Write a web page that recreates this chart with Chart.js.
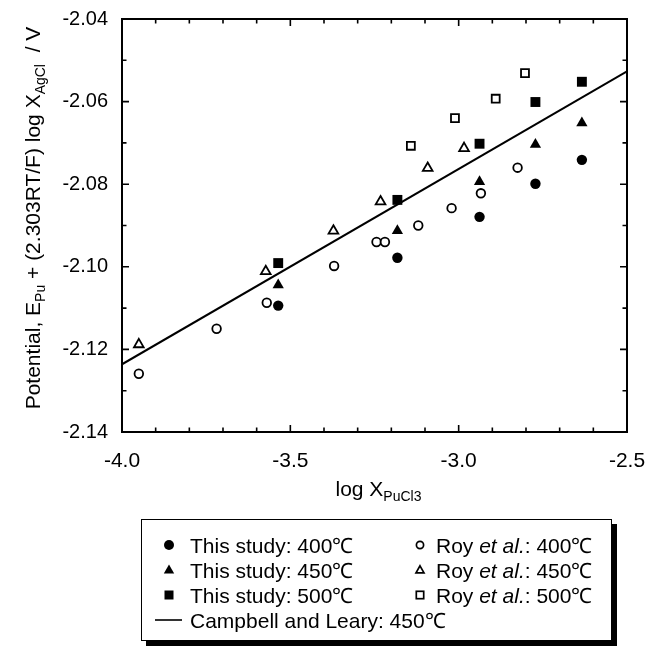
<!DOCTYPE html>
<html>
<head>
<meta charset="utf-8">
<script src="https://cdn.jsdelivr.net/npm/chart.js@4.4.0/dist/chart.umd.min.js"></script>
<style>
  body { margin: 0; background: #fff; }
  #wrap { position: relative; width: 662px; height: 646px; }
  #legend {
    position: absolute; left: 141px; top: 519px; width: 471px; height: 122px;
    box-sizing: border-box; border: 1.5px solid #000; box-shadow: 5px 5px 0 #000;
    background: #fff; font-family: "Liberation Sans", Arial, sans-serif; font-size: 21px; color: #000;
  }
  .item { position: absolute; height: 25px; line-height: 25px; white-space: nowrap; }
  .mk { position: absolute; }
</style>
</head>
<body>
<div id="wrap">
  <canvas id="chart" width="662" height="646"></canvas>
  <div id="legend"></div>
</div>
<script>
// shared log X(PuCl3) for this study
const studyX = [-3.536, -3.182, -2.938, -2.772, -2.634];
const study400 = [-2.1094, -2.0978, -2.0879, -2.0799, -2.0741];
const study450 = [-2.1044, -2.0913, -2.0794, -2.0704, -2.0652];
const study500 = [-2.0991, -2.0838, -2.0702, -2.0601, -2.0552];

const roy400X = [-3.950, -3.719, -3.570, -3.370, -3.244, -3.219, -3.120, -3.021, -2.934, -2.825];
const roy400 = [-2.1259, -2.1150, -2.1087, -2.0998, -2.0940, -2.0940, -2.0900, -2.0858, -2.0822, -2.0760];
const roy450X = [-3.950, -3.573, -3.372, -3.232, -3.092, -2.984];
const roy450 = [-2.1188, -2.1011, -2.0913, -2.0842, -2.0761, -2.0713];
const roy500X = [-3.142, -3.011, -2.890, -2.803];
const roy500 = [-2.0707, -2.0640, -2.0593, -2.0531];

const lineX = [-4.0, -2.5];
const lineY = [-2.1236, -2.0527];

const seriesLabels = [
  'This study: 400℃', 'This study: 450℃', 'This study: 500℃',
  'Roy et al.: 400℃', 'Roy et al.: 450℃', 'Roy et al.: 500℃',
  'Campbell and Leary: 450℃'
];

const FONT = '"Liberation Sans", Arial, sans-serif';

function pts(xs, ys) {
  return xs.map((x, i) => ({ x: x, y: ys[i] }));
}

function filled(label, data, style, r) {
  return { label: label, data: data, pointStyle: style, pointRadius: r, pointHoverRadius: r,
    backgroundColor: '#000', borderColor: '#000', borderWidth: 0, showLine: false };
}
function open(label, data, style, r) {
  return { label: label, data: data, pointStyle: style, pointRadius: r, pointHoverRadius: r,
    backgroundColor: '#fff', borderColor: '#000', borderWidth: 1.8, showLine: false };
}

const datasets = [
  filled(seriesLabels[0], pts(studyX, study400), 'circle', 5.2),
  filled(seriesLabels[1], pts(studyX, study450), 'triangle', 6.5),
  filled(seriesLabels[2], pts(studyX, study500), 'rect', 7),
  open(seriesLabels[3], pts(roy400X, roy400), 'circle', 4.3),
  open(seriesLabels[4], pts(roy450X, roy450), 'triangle', 5.6),
  open(seriesLabels[5], pts(roy500X, roy500), 'rect', 5.6),
  { label: seriesLabels[6], data: pts(lineX, lineY), type: 'line', showLine: true,
    borderColor: '#000', borderWidth: 2, pointRadius: 0, fill: false, tension: 0 }
];

function isMajorX(v) { return Math.abs(v * 2 - Math.round(v * 2)) < 1e-6; }
function isMajorY(v) { return Math.round(Math.abs(v) * 100) % 2 === 0; }

function drawRich(ctx, parts, x, y, size, subSize) {
  let total = 0;
  parts.forEach(p => {
    ctx.font = (p.sub ? subSize : size) + 'px ' + FONT;
    total += ctx.measureText(p.t).width;
  });
  let cx = x - total / 2;
  parts.forEach(p => {
    ctx.font = (p.sub ? subSize : size) + 'px ' + FONT;
    ctx.fillText(p.t, cx, p.sub ? y + 5 : y);
    cx += ctx.measureText(p.t).width;
  });
}

const framePlugin = {
  id: 'frame',
  afterDraw(chart) {
    const ctx = chart.ctx;
    const a = chart.chartArea;
    const xs = chart.scales.x, ys = chart.scales.y;
    ctx.save();
    ctx.strokeStyle = '#000';
    ctx.lineWidth = 2;
    ctx.strokeRect(a.left, a.top, a.right - a.left, a.bottom - a.top);
    ctx.lineWidth = 1.6;
    ctx.beginPath();
    xs.ticks.forEach(t => {
      const px = xs.getPixelForValue(t.value);
      const len = isMajorX(t.value) ? 7 : 4.5;
      ctx.moveTo(px, a.bottom); ctx.lineTo(px, a.bottom - len);
      ctx.moveTo(px, a.top); ctx.lineTo(px, a.top + len);
    });
    ys.ticks.forEach(t => {
      const py = ys.getPixelForValue(t.value);
      const len = isMajorY(t.value) ? 7 : 4.5;
      ctx.moveTo(a.left, py); ctx.lineTo(a.left + len, py);
      ctx.moveTo(a.right, py); ctx.lineTo(a.right - len, py);
    });
    ctx.stroke();

    // axis titles with subscripts
    ctx.fillStyle = '#000';
    ctx.textBaseline = 'alphabetic';
    ctx.textAlign = 'left';
    drawRich(ctx, [{ t: 'log X' }, { t: 'PuCl3', sub: true }], (a.left + a.right) / 2 + 4, 496, 21, 14);

    ctx.translate(40, 218);
    ctx.rotate(-Math.PI / 2);
    drawRich(ctx, [
      { t: 'Potential, E' }, { t: 'Pu', sub: true },
      { t: ' + (2.303RT/F) log X' }, { t: 'AgCl', sub: true }, { t: '  / V' }
    ], 0, 0, 21, 14);
    ctx.restore();
  }
};

new Chart(document.getElementById('chart'), {
  type: 'scatter',
  data: { datasets: datasets },
  options: {
    responsive: false,
    animation: false,
    events: [],
    layout: { padding: { top: 19, right: 35, left: 0, bottom: 0 } },
    plugins: { legend: { display: false }, tooltip: { enabled: false } },
    scales: {
      x: {
        type: 'linear', min: -4, max: -2.5,
        afterFit(scale) { scale.height = 214; },
        grid: { display: false }, border: { display: false },
        ticks: {
          stepSize: 0.1, autoSkip: false, maxRotation: 0, padding: 9,
          color: '#000', font: { family: FONT, size: 21 },
          callback: v => isMajorX(v) ? v.toFixed(1) : ''
        }
      },
      y: {
        type: 'linear', min: -2.14, max: -2.04,
        afterFit(scale) { scale.width = 122; },
        grid: { display: false }, border: { display: false },
        ticks: {
          stepSize: 0.01, autoSkip: false, padding: 6,
          color: '#000', font: { family: FONT, size: 20 },
          callback: v => isMajorY(v) ? v.toFixed(2) : ''
        }
      }
    }
  },
  plugins: [framePlugin]
});

// legend box
function markerSvg(style, isFilled) {
  const fill = isFilled ? '#000' : 'none';
  const sw = isFilled ? 0 : 1.7;
  let shape = '';
  if (style === 'circle') shape = isFilled ? '<circle cx="8" cy="8" r="5" fill="#000"/>' :
    '<circle cx="8" cy="8" r="3.6" fill="none" stroke="#000" stroke-width="1.7"/>';
  if (style === 'triangle') shape = isFilled ? '<polygon points="8,2.5 13.2,11.5 2.8,11.5" fill="#000"/>' :
    '<polygon points="8,3.8 12,10.8 4,10.8" fill="none" stroke="#000" stroke-width="' + sw + '"/>';
  if (style === 'rect') shape = isFilled ? '<rect x="3.5" y="3.5" width="9" height="9" fill="#000"/>' :
    '<rect x="4.3" y="4.3" width="7.4" height="7.4" fill="' + fill + '" stroke="#000" stroke-width="' + sw + '"/>';
  return '<svg class="mk" width="16" height="16" viewBox="0 0 16 16">' + shape + '</svg>';
}

const legendEl = document.getElementById('legend');
const styles = ['circle', 'triangle', 'rect'];
function addItem(html, markerHtml, mx, tx, cy) {
  const m = document.createElement('div');
  m.className = 'item';
  m.style.left = (mx - 8) + 'px';
  m.style.top = (cy - 8) + 'px';
  m.style.height = '16px';
  m.innerHTML = markerHtml;
  legendEl.appendChild(m);
  const t = document.createElement('div');
  t.className = 'item';
  t.style.left = tx + 'px';
  t.style.top = (cy - 12.5) + 'px';
  t.innerHTML = html;
  legendEl.appendChild(t);
}
for (let i = 0; i < 3; i++) {
  const cy = 25 + 25 * i;
  addItem(seriesLabels[i], markerSvg(styles[i], true), 27, 48, cy);
  addItem(seriesLabels[3 + i].replace('et al.', '<i>et al.</i>'), markerSvg(styles[i], false), 278, 294, cy);
}
const lineMk = '<svg class="mk" width="30" height="16" viewBox="0 0 30 16"><line x1="0" y1="8" x2="27" y2="8" stroke="#000" stroke-width="1.6"/></svg>';
addItem(seriesLabels[6], lineMk, 21, 48, 100);
</script>
</body>
</html>
